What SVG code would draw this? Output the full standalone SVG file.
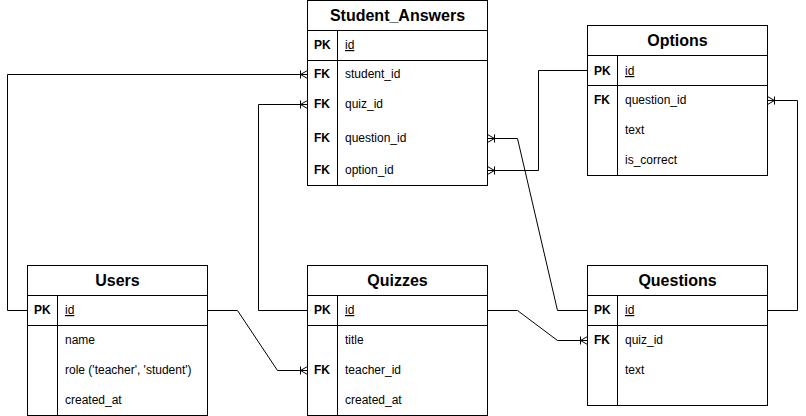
<svg xmlns="http://www.w3.org/2000/svg" width="806" height="416" viewBox="0 0 806 416">
<style>
.box{fill:#fff;stroke:#000;stroke-width:1}
.ln{stroke:#000;stroke-width:1;fill:none}
.hd{font-family:"Liberation Sans",Arial,sans-serif;font-size:16px;font-weight:bold;text-anchor:middle;fill:#000}
.k{font-family:"Liberation Sans",Arial,sans-serif;font-size:12px;font-weight:bold;fill:#000}
.f{font-family:"Liberation Sans",Arial,sans-serif;font-size:12px;fill:#000}
.u{text-decoration:underline}
.c{stroke:#000;stroke-width:1;fill:none}
</style>
<defs>
<marker id="many" viewBox="0 0 10 10" refX="10" refY="5" markerWidth="10" markerHeight="10" markerUnits="userSpaceOnUse" orient="auto">
<path d="M3,1 L3,9 M3,5 L10,1 M3,5 L10,9" stroke="#000" stroke-width="1" fill="none"/>
</marker>
</defs>
<rect width="806" height="416" fill="#fff"/>
<g id="connectors">
<path class="c" d="M27.5,310.5 H7.5 V74.5 H307.5" marker-end="url(#many)"/>
<path class="c" d="M307.5,310.5 H258.5 V104.5 H307.5" marker-end="url(#many)"/>
<path class="c" d="M207.5,310.5 H237.5 L277.5,370.5 H307.5" marker-end="url(#many)"/>
<path class="c" d="M487.5,310.5 H517.5 L557.5,340.5 H587.5" marker-end="url(#many)"/>
<path class="c" d="M587.5,310.5 H557.5 L517.5,138.5 H487.5" marker-end="url(#many)"/>
<path class="c" d="M587.5,70.5 H538.5 V170.5 H487.5" marker-end="url(#many)"/>
<path class="c" d="M767.5,310.5 H797.5 V100.5 H767.5" marker-end="url(#many)"/>
</g>
<g id="student_answers">
<rect class="box" x="307.5" y="0.5" width="180" height="185"/>
<path class="ln" d="M307.5,30.5 H487.5 M307.5,60.5 H487.5 M337.5,30.5 V185.5"/>
<text class="hd" x="397.5" y="21">Student_Answers</text>
<text class="k" x="314" y="49">PK</text><text class="f u" x="345" y="49">id</text>
<text class="k" x="314" y="78">FK</text><text class="f" x="345" y="78">student_id</text>
<text class="k" x="314" y="108">FK</text><text class="f" x="345" y="108">quiz_id</text>
<text class="k" x="314" y="142">FK</text><text class="f" x="345" y="142">question_id</text>
<text class="k" x="314" y="174">FK</text><text class="f" x="345" y="174">option_id</text>
</g>
<g id="options">
<rect class="box" x="587.5" y="25.5" width="180" height="150"/>
<path class="ln" d="M587.5,55.5 H767.5 M587.5,85.5 H767.5 M617.5,55.5 V175.5"/>
<text class="hd" x="677.5" y="46">Options</text>
<text class="k" x="594" y="75">PK</text><text class="f u" x="625" y="75">id</text>
<text class="k" x="594" y="104">FK</text><text class="f" x="625" y="104">question_id</text>
<text class="f" x="625" y="134">text</text>
<text class="f" x="625" y="164">is_correct</text>
</g>
<g id="users">
<rect class="box" x="27.5" y="265.5" width="180" height="150"/>
<path class="ln" d="M27.5,295.5 H207.5 M27.5,325.5 H207.5 M57.5,295.5 V415.5"/>
<text class="hd" x="117.5" y="286">Users</text>
<text class="k" x="34" y="314">PK</text><text class="f u" x="65" y="314">id</text>
<text class="f" x="65" y="344">name</text>
<text class="f" x="65" y="374">role ('teacher', 'student')</text>
<text class="f" x="65" y="404">created_at</text>
</g>
<g id="quizzes">
<rect class="box" x="307.5" y="265.5" width="180" height="150"/>
<path class="ln" d="M307.5,295.5 H487.5 M307.5,325.5 H487.5 M337.5,295.5 V415.5"/>
<text class="hd" x="397.5" y="286">Quizzes</text>
<text class="k" x="314" y="314">PK</text><text class="f u" x="345" y="314">id</text>
<text class="f" x="345" y="344">title</text>
<text class="k" x="314" y="374">FK</text><text class="f" x="345" y="374">teacher_id</text>
<text class="f" x="345" y="404">created_at</text>
</g>
<g id="questions">
<rect class="box" x="587.5" y="265.5" width="180" height="140"/>
<path class="ln" d="M587.5,295.5 H767.5 M587.5,325.5 H767.5 M617.5,295.5 V405.5"/>
<text class="hd" x="677.5" y="286">Questions</text>
<text class="k" x="594" y="314">PK</text><text class="f u" x="625" y="314">id</text>
<text class="k" x="594" y="344">FK</text><text class="f" x="625" y="344">quiz_id</text>
<text class="f" x="625" y="374">text</text>
</g>
</svg>
